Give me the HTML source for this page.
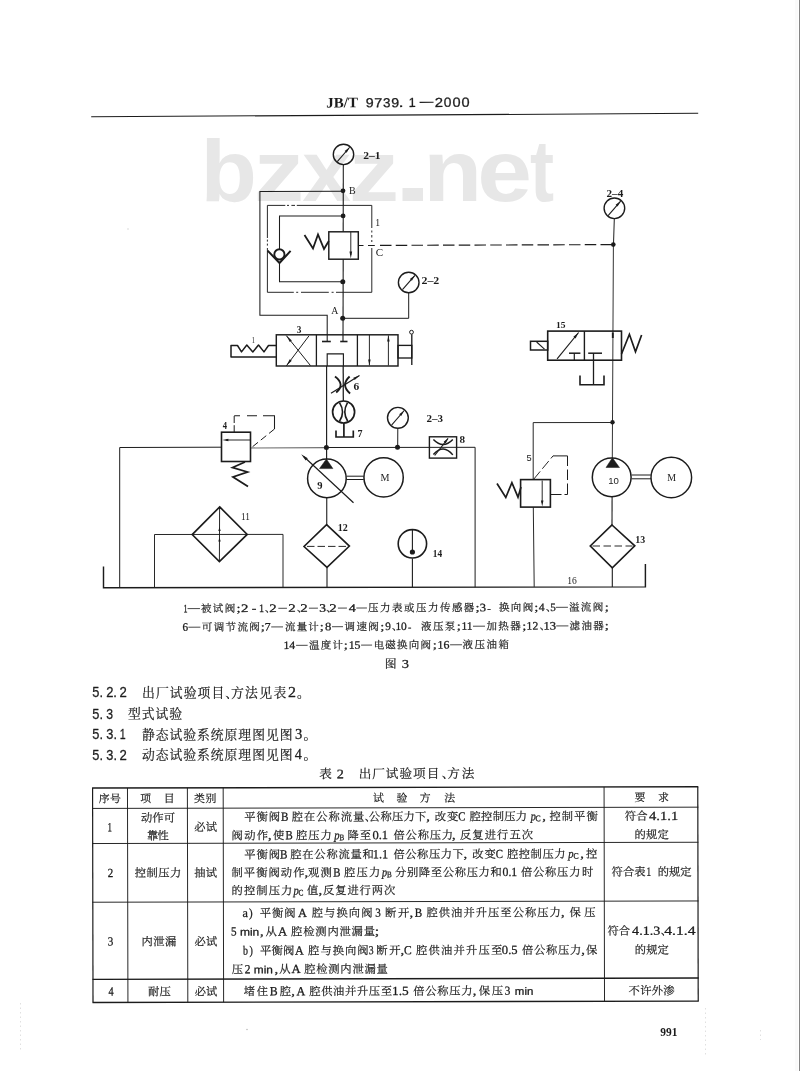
<!DOCTYPE html>
<html lang="zh"><head><meta charset="utf-8"><title>JB/T 9739.1-2000</title>
<style>
html,body{margin:0;padding:0;background:#fff}
body{width:800px;height:1071px;overflow:hidden;position:relative;font-family:"Liberation Serif",serif}
svg{position:absolute;left:0;top:0;display:block;filter:grayscale(1) blur(0.3px)}
svg text{font-family:"Liberation Serif",serif;fill:#1c1c1c;stroke:none}
svg text.h{fill:none;fill-opacity:0;font-family:"Liberation Serif",serif}
svg text.c{font-family:"Liberation Serif","Noto Serif CJK SC",serif;fill:#1c1c1c;stroke:#1c1c1c;stroke-width:.2px}
svg text.s{font-family:"Liberation Sans",sans-serif}
svg text.a{stroke:#1c1c1c;stroke-width:.28px}
.wm text{font-family:"Liberation Sans",sans-serif;font-weight:bold;fill:#e7e7e7}
</style></head><body>
<svg width="800" height="1071" viewBox="0 0 800 1071">
<g class="wm"><text x="200.42" y="201" font-size="87" textLength="56.37" lengthAdjust="spacingAndGlyphs">b</text><text x="253.77" y="201" font-size="87" textLength="50.37" lengthAdjust="spacingAndGlyphs">z</text><text x="302.3" y="201" font-size="87" textLength="48.74" lengthAdjust="spacingAndGlyphs">x</text><text x="348.77" y="201" font-size="87" textLength="50.37" lengthAdjust="spacingAndGlyphs">z</text><text x="392.89" y="201" font-size="87" textLength="40.16" lengthAdjust="spacingAndGlyphs">.</text><text x="423.34" y="201" font-size="87" textLength="58.94" lengthAdjust="spacingAndGlyphs">n</text><text x="477.16" y="201" font-size="87" textLength="54.7" lengthAdjust="spacingAndGlyphs">e</text><text x="530.02" y="201" font-size="87" textLength="24.06" lengthAdjust="spacingAndGlyphs">t</text></g>
<g fill="none" stroke="#1c1c1c" stroke-linecap="butt" stroke-linejoin="miter">
<line x1="91.2" y1="116.8" x2="698.2" y2="113.3" stroke-width="1.05"/>
<circle cx="343.5" cy="154.4" r="10.2" stroke-width="1.4" fill="none"/><line x1="337.28" y1="161.56" x2="349.72" y2="147.24" stroke-width="1.1"/><polygon points="349.47,147.53 346.69,152.79 344.65,151.02" fill="#1c1c1c" stroke="none"/>
<line x1="343.3" y1="164.6" x2="343.2" y2="231.8" stroke-width="1.1"/>
<line x1="343.2" y1="259.2" x2="343" y2="341.2" stroke-width="1.1"/>
<circle cx="343" cy="190.8" r="2.4" fill="#1c1c1c" stroke="none"/>
<circle cx="343.1" cy="215.9" r="2.4" fill="#1c1c1c" stroke="none"/>
<circle cx="342.8" cy="281.8" r="2.5" fill="#1c1c1c" stroke="none"/>
<circle cx="342.7" cy="318.3" r="2.5" fill="#1c1c1c" stroke="none"/>
<polyline points="343,191.3 259.9,191.4 259.9,315.3 327.2,315.3 327.2,341.5" stroke-width="1.05"/>
<path d="M267.4 205.4H285.3M287 205.4h2M291.4 205.4H295M296.8 205.4H371.8V228M371.8 230.5v2M371.8 235v2.5M371.8 240v2M371.8 248V292.3H336M333.6 292.3h-2M328.8 292.3H301M298.2 292.3h-2M293.8 292.3H267.4V248M267.4 245.6v-2M267.4 241.6v-2M267.4 238V205.4" stroke-width="0.95"/>
<polyline points="343,216 279.5,216 279.5,249" stroke-width="1.05"/>
<polyline points="279.5,262 279.5,281.8 343,281.8" stroke-width="1.05"/>
<circle cx="279.4" cy="254.4" r="5.1" stroke-width="1.9" fill="none"/>
<polyline points="267.6,250.6 279.5,263 290.6,250.9" stroke-width="2"/>
<rect x="328.8" y="231.8" width="29.5" height="27.4" stroke-width="1.45"/>
<line x1="350.8" y1="232" x2="350.8" y2="255" stroke-width="0.95"/>
<polygon points="350.8,258.6 349.5,251.6 352.1,251.6" fill="#1c1c1c" stroke="none"/>
<polyline points="304.5,235 313,248.5 318,234.5 324,249 328.8,241" stroke-width="1.8"/>
<line x1="358.3" y1="245.5" x2="363.5" y2="245.5" stroke-width="1"/>
<line x1="368" y1="245.5" x2="374.8" y2="245.5" stroke-width="1"/>
<line x1="380" y1="245.4" x2="613" y2="244.6" stroke-width="1.15" stroke-dasharray="11.5 4.25"/>
<circle cx="408.7" cy="282.5" r="10.3" stroke-width="1.4" fill="none"/><line x1="402.42" y1="289.73" x2="414.98" y2="275.27" stroke-width="1.1"/><polygon points="414.73,275.56 411.95,280.82 409.91,279.05" fill="#1c1c1c" stroke="none"/>
<polyline points="408.7,292.8 408.7,318.3 343,318.3" stroke-width="1"/>
<rect x="276.3" y="334.8" width="121.7" height="31.2" stroke-width="1.45"/>
<line x1="316.4" y1="334.8" x2="316.4" y2="366" stroke-width="1.3"/>
<line x1="357.4" y1="334.8" x2="357.4" y2="366" stroke-width="1.3"/>
<line x1="310.5" y1="365.6" x2="286.3" y2="335.6" stroke-width="1"/><polygon points="286.3,335.6 291.83,340.39 289.81,342.02" fill="#1c1c1c" stroke="none"/>
<line x1="309" y1="335.8" x2="286.4" y2="365.8" stroke-width="1"/><polygon points="286.4,365.8 289.69,359.27 291.77,360.83" fill="#1c1c1c" stroke="none"/>
<line x1="322" y1="341.5" x2="330.8" y2="341.5" stroke-width="1.6"/>
<line x1="340.2" y1="341.5" x2="347.5" y2="341.5" stroke-width="1.6"/>
<polyline points="327.2,366 327.2,353.9 343.4,353.9 343.4,366" stroke-width="1.15"/>
<line x1="369.4" y1="335" x2="369.4" y2="365.4" stroke-width="0.95"/><polygon points="369.4,365.4 368.15,359.4 370.65,359.4" fill="#1c1c1c" stroke="none"/>
<line x1="388.4" y1="365.5" x2="388.4" y2="335.4" stroke-width="0.95"/><polygon points="388.4,335.4 389.65,341.4 387.15,341.4" fill="#1c1c1c" stroke="none"/>
<rect x="398" y="345.4" width="13.8" height="12.6" stroke-width="1.35"/>
<line x1="411.8" y1="334.2" x2="411.8" y2="365" stroke-width="1.35"/>
<circle cx="411.5" cy="332.2" r="1.9" stroke-width="1" fill="none"/>
<polyline points="276.3,345.5 268.5,345.5 264,351.9 258.5,345 252.8,351.9 246.8,345 241.5,351.9 237.5,345.5 231,345.5 231,357 276.3,357" stroke-width="1.5" stroke-linejoin="round"/>
<line x1="326.6" y1="365.9" x2="326.6" y2="459.2" stroke-width="1.15"/>
<line x1="343.2" y1="365.9" x2="343.3" y2="401" stroke-width="1.25"/>
<path d="M335 376.5Q345.6 384.5 336.2 392.5" stroke-width="1.9"/>
<path d="M349.6 376.5Q340.3 385 350.1 393.5" stroke-width="1.9"/>
<line x1="331" y1="393.3" x2="359.5" y2="375.5" stroke-width="1.2"/><polygon points="359.5,375.5 354.68,380.05 353.3,377.84" fill="#1c1c1c" stroke="none"/>
<circle cx="343.6" cy="412" r="11" stroke-width="1.7" fill="none"/>
<path d="M339.5 402.6Q345.6 412.2 339.5 421.2" stroke-width="1.6"/>
<path d="M347.5 402.6Q342 412.2 347.7 421.2" stroke-width="1.6"/>
<line x1="343.9" y1="423" x2="343.9" y2="437" stroke-width="1.7"/>
<polyline points="336,430.4 336,437 353.3,437 353.3,430.4" stroke-width="1.65"/>
<polyline points="119.7,587.8 119.7,447.5 221.5,447.2" stroke-width="1"/>
<line x1="250.5" y1="448" x2="326.4" y2="447.6" stroke-width="1.2" stroke="#707070"/>
<polyline points="326.4,447.5 475.1,447.3 475.1,587.2" stroke-width="1"/>
<circle cx="326.4" cy="447.5" r="2.5" fill="#1c1c1c" stroke="none"/>
<circle cx="397.5" cy="447.3" r="2.5" fill="#1c1c1c" stroke="none"/>
<rect x="221.5" y="432.2" width="29" height="29.3" stroke-width="1.6"/>
<line x1="250.5" y1="440" x2="226" y2="440" stroke-width="0.95"/>
<polygon points="222.4,440 228.4,438.75 228.4,441.25" fill="#1c1c1c" stroke="none"/>
<line x1="234.2" y1="432.2" x2="234.2" y2="415.8" stroke-width="1" stroke-dasharray="7 2.2"/>
<path d="M234.2 415.8H240M247 415.8H257M263 415.8H274.5V429" stroke-width="1.05"/>
<line x1="274.5" y1="429" x2="251" y2="448" stroke-width="1" stroke-dasharray="7 3.6"/>
<polyline points="245,462 232.6,467.5 247.5,472 233,477 248,486.5" stroke-width="1.8"/>
<polygon points="219.7,506.9 247.2,534.4 219.4,561.6 192.2,534.6" stroke-width="1.65"/>
<polyline points="154.5,587.7 154.5,534.5 283,534.4 283,587.4" stroke-width="0.95"/>
<line x1="219.6" y1="507" x2="219.4" y2="561.6" stroke-width="0.95"/>
<polygon points="219.5,527 220.7,531 218.3,531" fill="#1c1c1c" stroke="none"/>
<polygon points="219.5,537.5 220.7,541.5 218.3,541.5" fill="#1c1c1c" stroke="none"/>
<circle cx="326.9" cy="478.4" r="19.3" stroke-width="1.5" fill="none"/>
<polygon points="326.4,459 319.5,468.6 332.9,468.6" stroke-width="0.5" fill="#1c1c1c"/>
<line x1="353.5" y1="502.8" x2="304" y2="456.8" stroke-width="1.2"/>
<polygon points="301.2,454.2 307.72,458.21 305.67,460.4" fill="#1c1c1c" stroke="none"/>
<line x1="346.4" y1="476.2" x2="363.8" y2="476.2" stroke-width="1"/>
<line x1="346.4" y1="479.5" x2="363.8" y2="479.5" stroke-width="1"/>
<circle cx="383.6" cy="477.4" r="19.65" stroke-width="1.5" fill="none"/>
<line x1="326.75" y1="497.6" x2="326.75" y2="525" stroke-width="1.1"/>
<polygon points="326.6,524.6 349.4,546.1 327,567.4 304,546.5" stroke-width="1.6"/>
<line x1="307" y1="546.4" x2="347" y2="546.4" stroke-width="0.95" stroke-dasharray="7.5 3"/>
<line x1="327" y1="567.4" x2="327" y2="587.4" stroke-width="1.1"/>
<circle cx="412.4" cy="543.8" r="14.2" stroke-width="1.6" fill="none"/>
<line x1="412.4" y1="529.3" x2="412.4" y2="551" stroke-width="1.1"/>
<circle cx="412.4" cy="552" r="2.6" fill="#1c1c1c" stroke="none"/>
<line x1="412.4" y1="558.4" x2="412.4" y2="587.3" stroke-width="1.1"/>
<circle cx="397.9" cy="417.8" r="10.4" stroke-width="1.4" fill="none"/><line x1="391.55" y1="425.1" x2="404.25" y2="410.5" stroke-width="1.1"/><polygon points="403.99,410.79 401.21,416.06 399.17,414.28" fill="#1c1c1c" stroke="none"/>
<line x1="397.8" y1="428.2" x2="397.7" y2="447.5" stroke-width="1"/>
<rect x="429.4" y="436.8" width="27.2" height="21.3" stroke-width="1.4"/>
<path d="M433.4 439.6Q443.1 449.6 452.8 439.6" stroke-width="1.5"/>
<path d="M433.4 454.4Q443.4 443.2 452.8 454.9" stroke-width="1.5"/>
<line x1="434.7" y1="455.5" x2="448.1" y2="438.3" stroke-width="1.1"/><polygon points="448.1,438.3 445.75,443.44 443.69,441.84" fill="#1c1c1c" stroke="none"/>
<circle cx="614.4" cy="208.3" r="10.3" stroke-width="1.4" fill="none"/><line x1="608.12" y1="215.53" x2="620.68" y2="201.07" stroke-width="1.1"/><polygon points="620.43,201.36 617.65,206.62 615.61,204.85" fill="#1c1c1c" stroke="none"/>
<line x1="614.3" y1="218.6" x2="613.5" y2="244.5" stroke-width="1"/>
<circle cx="613.3" cy="244.6" r="2.3" fill="#1c1c1c" stroke="none"/>
<line x1="613.4" y1="244.6" x2="612.3" y2="458" stroke-width="0.9"/>
<line x1="612.8" y1="332.5" x2="612.8" y2="338" stroke-width="1.9"/>
<rect x="547.7" y="331.1" width="73.8" height="29.1" stroke-width="1.6"/>
<line x1="584.4" y1="331.1" x2="584.4" y2="360.2" stroke-width="1.4"/>
<line x1="557.1" y1="358.8" x2="578.6" y2="332.5" stroke-width="1.15"/><polygon points="578.6,332.5 575.57,338.42 573.4,336.65" fill="#1c1c1c" stroke="none"/>
<line x1="569" y1="353.2" x2="580.4" y2="353.2" stroke-width="1.5"/>
<line x1="574.3" y1="353.2" x2="574.3" y2="360.2" stroke-width="1.2"/>
<line x1="588.2" y1="353.2" x2="602" y2="353.2" stroke-width="1.5"/>
<line x1="593.5" y1="353.2" x2="593.5" y2="384.6" stroke-width="1.3"/>
<polyline points="580,375.4 580,384.7 604,384.7 604,375.4" stroke-width="1.6"/>
<rect x="530.5" y="341.3" width="17.2" height="8.7" stroke-width="1.5"/>
<line x1="536.6" y1="342" x2="544.5" y2="349.2" stroke-width="1.1"/>
<polyline points="621.5,354 629.4,334.3 635.5,351.8 641.6,335" stroke-width="1.7"/>
<circle cx="612.5" cy="422.3" r="2.2" fill="#1c1c1c" stroke="none"/>
<polyline points="612.5,422.5 533.2,422.6 533.2,479.6" stroke-width="0.95"/>
<rect x="520.6" y="479.6" width="29.8" height="27.5" stroke-width="1.6"/>
<line x1="542.2" y1="480.5" x2="542.2" y2="503" stroke-width="0.95"/>
<polygon points="542.2,506.4 540.95,500.4 543.45,500.4" fill="#1c1c1c" stroke="none"/>
<line x1="533.8" y1="479.1" x2="553" y2="455.9" stroke-width="0.95" stroke-dasharray="10 3.4"/>
<path d="M553 455.9H567.5M567.5 455.9V466M567.5 469.5V480M567.5 483.5V494.5H564.5M561.5 494.5H550.4" stroke-width="1"/>
<polyline points="497,483.5 505.8,497.5 511.9,482.6 518,497.2 521,487" stroke-width="1.7"/>
<line x1="533.3" y1="507.1" x2="534.2" y2="586.9" stroke-width="0.95"/>
<circle cx="611.7" cy="477.3" r="19.4" stroke-width="1.5" fill="none"/>
<polygon points="612.4,457.8 606,467.5 619.5,467.5" stroke-width="0.5" fill="#1c1c1c"/>
<line x1="631.5" y1="475" x2="651" y2="475" stroke-width="1"/>
<line x1="631.5" y1="478.8" x2="651" y2="478.8" stroke-width="1"/>
<circle cx="671.3" cy="477.5" r="20.3" stroke-width="1.45" fill="none"/>
<line x1="612.1" y1="497" x2="612" y2="525" stroke-width="1.1"/>
<polygon points="612,525 634.8,545.8 612.3,567.8 590.3,546" stroke-width="1.65"/>
<line x1="592.5" y1="546" x2="632.5" y2="546" stroke-width="0.95" stroke-dasharray="7.5 3.5"/>
<line x1="612.3" y1="567.8" x2="612.3" y2="587" stroke-width="1.1"/>
<polyline points="103.5,566.6 103.5,587.8 645.4,586.9 645.4,564" stroke-width="1.45"/>
</g>
<g fill="#1c1c1c" stroke="#1c1c1c" stroke-linejoin="round">
<g transform="rotate(-0.33 400 107)">
<text x="326.2" y="107" font-size="14.6" font-weight="bold" textLength="31.8" lengthAdjust="spacingAndGlyphs">JB/T</text>
<text x="365.73" y="107.1" font-size="13.2" class="s a" textLength="7.95" lengthAdjust="spacingAndGlyphs">9</text>
<text x="374.26" y="107.1" font-size="13.2" class="s a" textLength="8.07" lengthAdjust="spacingAndGlyphs">7</text>
<text x="383.09" y="107.1" font-size="13.2" class="s a" textLength="7.51" lengthAdjust="spacingAndGlyphs">3</text>
<text x="391.33" y="107.1" font-size="13.2" class="s a" textLength="7.95" lengthAdjust="spacingAndGlyphs">9</text>
<text x="398.47" y="107.1" font-size="13.2" class="s a" textLength="5.25" lengthAdjust="spacingAndGlyphs">.</text>
<text x="408.65" y="107.1" font-size="13.2" class="s a" textLength="6.97" lengthAdjust="spacingAndGlyphs">1</text>
<text class="h" x="420" y="107" font-size="13">—</text><line x1="419.6" y1="102.5" x2="433.6" y2="102.5" stroke="#1c1c1c" stroke-width="1.1"/>
<text x="434.85" y="107.1" font-size="13.2" class="s a" textLength="8.3" lengthAdjust="spacingAndGlyphs">2</text>
<text x="443.86" y="107.1" font-size="13.2" class="s a" textLength="7.68" lengthAdjust="spacingAndGlyphs">0</text>
<text x="452.43" y="107.1" font-size="13.2" class="s a" textLength="8.14" lengthAdjust="spacingAndGlyphs">0</text>
<text x="461.43" y="107.1" font-size="13.2" class="s a" textLength="8.14" lengthAdjust="spacingAndGlyphs">0</text>
</g>
<text x="363.32" y="158.9" font-size="9.5" font-weight="bold" textLength="17.28" lengthAdjust="spacingAndGlyphs">2–1</text>
<text x="421.5" y="283.9" font-size="9.5" font-weight="bold" textLength="17.81" lengthAdjust="spacingAndGlyphs">2–2</text>
<text x="426.44" y="422.3" font-size="9.5" font-weight="bold" textLength="16.54" lengthAdjust="spacingAndGlyphs">2–3</text>
<text x="606.53" y="196.9" font-size="9.5" font-weight="bold" textLength="16.67" lengthAdjust="spacingAndGlyphs">2–4</text>
<text x="349.01" y="194.4" font-size="10" textLength="6.68" lengthAdjust="spacingAndGlyphs">B</text>
<text x="331.2" y="314.4" font-size="10" textLength="7.07" lengthAdjust="spacingAndGlyphs">A</text>
<text x="375.85" y="255.9" font-size="9.5" textLength="7.36" lengthAdjust="spacingAndGlyphs">C</text>
<text x="375.35" y="226.4" font-size="9.5" textLength="4.83" lengthAdjust="spacingAndGlyphs">1</text>
<text x="296.65" y="332.6" font-size="9.5" font-weight="bold" textLength="4.67" lengthAdjust="spacingAndGlyphs">3</text>
<text x="251.82" y="343" font-size="8.5" textLength="3.19" lengthAdjust="spacingAndGlyphs">1</text>
<text x="222.68" y="428.6" font-size="9.5" font-weight="bold" textLength="4.28" lengthAdjust="spacingAndGlyphs">4</text>
<text x="526.43" y="460.8" font-size="8.8" class="s" textLength="5.16" lengthAdjust="spacingAndGlyphs">5</text>
<text x="353.61" y="389.6" font-size="9.5" font-weight="bold" textLength="5.73" lengthAdjust="spacingAndGlyphs">6</text>
<text x="357.43" y="437" font-size="9.5" font-weight="bold" textLength="5.02" lengthAdjust="spacingAndGlyphs">7</text>
<text x="459.63" y="442.6" font-size="9.5" font-weight="bold" textLength="5.54" lengthAdjust="spacingAndGlyphs">8</text>
<text x="317.31" y="488.9" font-size="9.5" font-weight="bold" textLength="5.27" lengthAdjust="spacingAndGlyphs">9</text>
<text x="608.27" y="483.6" font-size="8.8" class="s" textLength="10.71" lengthAdjust="spacingAndGlyphs">10</text>
<text x="241.02" y="520.1" font-size="9.5" textLength="8.92" lengthAdjust="spacingAndGlyphs">11</text>
<text x="337.8" y="530.7" font-size="9.5" font-weight="bold" textLength="10.03" lengthAdjust="spacingAndGlyphs">12</text>
<text x="635.2" y="542.9" font-size="9.5" font-weight="bold" textLength="9.94" lengthAdjust="spacingAndGlyphs">13</text>
<text x="432.85" y="556.7" font-size="9.5" font-weight="bold" textLength="9.32" lengthAdjust="spacingAndGlyphs">14</text>
<text x="556.04" y="328.1" font-size="9" font-weight="bold" textLength="9.51" lengthAdjust="spacingAndGlyphs">15</text>
<text x="567.16" y="584.4" font-size="9.5" textLength="9.52" lengthAdjust="spacingAndGlyphs">16</text>
<text x="380.51" y="480.9" font-size="10.3" textLength="8.99" lengthAdjust="spacingAndGlyphs">M</text>
<text x="667.32" y="480.9" font-size="10.3" textLength="8.77" lengthAdjust="spacingAndGlyphs">M</text>
<g transform="rotate(-0.2 395 626)">
<g stroke-width="4"><text x="183.55" y="611.49" font-size="11.3" class="a" textLength="4.07" lengthAdjust="spacingAndGlyphs">1</text><text class="h" x="187.6" y="611.49" font-size="10.5">—</text><line x1="187.6" y1="607.9" x2="200" y2="607.9" stroke="#1c1c1c" stroke-width="0.8"/><text class="c" x="201" y="611.49" font-size="10.5" letter-spacing="1.42">被试阀</text><text x="236.44" y="611.49" font-size="11.3" class="a" textLength="4.09" lengthAdjust="spacingAndGlyphs">;</text><text x="240.94" y="611.49" font-size="11.3" class="a" textLength="7.48" lengthAdjust="spacingAndGlyphs">2</text><text x="251.89" y="611.49" font-size="11.3" class="a" textLength="4.62" lengthAdjust="spacingAndGlyphs">-</text><text x="259.1" y="611.49" font-size="11.3" class="a" textLength="5.11" lengthAdjust="spacingAndGlyphs">1</text><text class="c" x="265" y="611.49" font-size="10.5">、</text><text x="269.34" y="611.49" font-size="11.3" class="a" textLength="7.48" lengthAdjust="spacingAndGlyphs">2</text><text class="h" x="278.4" y="611.49" font-size="10.5">—</text><line x1="278.4" y1="607.9" x2="287" y2="607.9" stroke="#1c1c1c" stroke-width="0.8"/><text x="288.34" y="611.49" font-size="11.3" class="a" textLength="7.48" lengthAdjust="spacingAndGlyphs">2</text><text class="c" x="297" y="611.49" font-size="10.5">、</text><text x="300.34" y="611.49" font-size="11.3" class="a" textLength="7.48" lengthAdjust="spacingAndGlyphs">2</text><text class="h" x="309" y="611.49" font-size="10.5">—</text><line x1="309" y1="607.9" x2="318" y2="607.9" stroke="#1c1c1c" stroke-width="0.8"/><text x="319.35" y="611.49" font-size="11.3" class="a" textLength="6.78" lengthAdjust="spacingAndGlyphs">3</text><text class="c" x="326.4" y="611.49" font-size="10.5">、</text><text x="329.34" y="611.49" font-size="11.3" class="a" textLength="7.48" lengthAdjust="spacingAndGlyphs">2</text><text class="h" x="338" y="611.49" font-size="10.5">—</text><line x1="338" y1="607.9" x2="347" y2="607.9" stroke="#1c1c1c" stroke-width="0.8"/><text x="348.72" y="611.49" font-size="11.3" class="a" textLength="7.1" lengthAdjust="spacingAndGlyphs">4</text><text class="h" x="356.4" y="611.49" font-size="10.5">—</text><line x1="356.4" y1="607.9" x2="367" y2="607.9" stroke="#1c1c1c" stroke-width="0.8"/><text class="c" x="368" y="611.49" font-size="10.5" letter-spacing="1.49">压力表或压力传感器</text><text x="475.64" y="611.49" font-size="11.3" class="a" textLength="4.09" lengthAdjust="spacingAndGlyphs">;</text><text x="479.8" y="611.49" font-size="11.3" class="a" textLength="6.29" lengthAdjust="spacingAndGlyphs">3</text><text x="487.2" y="611.49" font-size="8" class="a" textLength="3.59" lengthAdjust="spacingAndGlyphs">-</text><text class="c" x="499" y="611.49" font-size="10.5" letter-spacing="1.37">换向阀</text><text x="534.24" y="611.49" font-size="11.3" class="a" textLength="4.09" lengthAdjust="spacingAndGlyphs">;</text><text x="538.77" y="611.49" font-size="11.3" class="a" textLength="5.92" lengthAdjust="spacingAndGlyphs">4</text><text class="c" x="546" y="611.49" font-size="10.5">、</text><text x="550.35" y="611.49" font-size="11.3" class="a" textLength="5.59" lengthAdjust="spacingAndGlyphs">5</text><text class="h" x="556" y="611.49" font-size="10.5">—</text><line x1="556" y1="607.9" x2="568" y2="607.9" stroke="#1c1c1c" stroke-width="0.8"/><text class="c" x="569" y="611.49" font-size="10.5" letter-spacing="1.42">溢流阀</text><text x="604.74" y="611.49" font-size="11.3" class="a" textLength="4.09" lengthAdjust="spacingAndGlyphs">;</text></g>
<g stroke-width="4"><text x="182.52" y="630.09" font-size="11.3" class="a" textLength="5.62" lengthAdjust="spacingAndGlyphs">6</text><text class="h" x="188.4" y="630.09" font-size="10.5">—</text><line x1="188.4" y1="626.5" x2="200.4" y2="626.5" stroke="#1c1c1c" stroke-width="0.8"/><text class="c" x="201.8" y="630.09" font-size="10.5" letter-spacing="1.39">可调节流阀</text><text x="260.84" y="630.09" font-size="11.3" class="a" textLength="4.09" lengthAdjust="spacingAndGlyphs">;</text><text x="264.82" y="630.09" font-size="11.3" class="a" textLength="5.92" lengthAdjust="spacingAndGlyphs">7</text><text class="h" x="271.2" y="630.09" font-size="10.5">—</text><line x1="271.2" y1="626.5" x2="283" y2="626.5" stroke="#1c1c1c" stroke-width="0.8"/><text class="c" x="285" y="630.09" font-size="10.5" letter-spacing="1.17">流量计</text><text x="319.64" y="630.09" font-size="11.3" class="a" textLength="4.09" lengthAdjust="spacingAndGlyphs">;</text><text x="325.11" y="630.09" font-size="11.3" class="a" textLength="6.37" lengthAdjust="spacingAndGlyphs">8</text><text class="h" x="332" y="630.09" font-size="10.5">—</text><line x1="332" y1="626.5" x2="343" y2="626.5" stroke="#1c1c1c" stroke-width="0.8"/><text class="c" x="344.4" y="630.09" font-size="10.5" letter-spacing="1.47">调速阀</text><text x="380.24" y="630.09" font-size="11.3" class="a" textLength="4.09" lengthAdjust="spacingAndGlyphs">;</text><text x="385.24" y="630.09" font-size="11.3" class="a" textLength="5.62" lengthAdjust="spacingAndGlyphs">9</text><text class="c" x="392" y="630.09" font-size="10.5">、</text><text x="395.39" y="630.09" font-size="11.3" class="a" textLength="11.44" lengthAdjust="spacingAndGlyphs">10</text><text x="408.03" y="630.09" font-size="8" class="a" textLength="3.33" lengthAdjust="spacingAndGlyphs">-</text><text class="c" x="421" y="630.09" font-size="10.5" letter-spacing="1.37">液压泵</text><text x="456.84" y="630.09" font-size="11.3" class="a" textLength="4.09" lengthAdjust="spacingAndGlyphs">;</text><text x="461.41" y="630.09" font-size="11.3" class="a" textLength="11.27" lengthAdjust="spacingAndGlyphs">11</text><text class="h" x="473" y="630.09" font-size="10.5">—</text><line x1="473" y1="626.5" x2="485" y2="626.5" stroke="#1c1c1c" stroke-width="0.8"/><text class="c" x="486.4" y="630.09" font-size="10.5" letter-spacing="1.47">加热器</text><text x="522.24" y="630.09" font-size="11.3" class="a" textLength="4.09" lengthAdjust="spacingAndGlyphs">;</text><text x="526.57" y="630.09" font-size="11.3" class="a" textLength="11.67" lengthAdjust="spacingAndGlyphs">12</text><text class="c" x="539.8" y="630.09" font-size="10.5">、</text><text x="543.39" y="630.09" font-size="11.3" class="a" textLength="12.6" lengthAdjust="spacingAndGlyphs">13</text><text class="h" x="556.2" y="630.09" font-size="10.5">—</text><line x1="556.2" y1="626.5" x2="568.4" y2="626.5" stroke="#1c1c1c" stroke-width="0.8"/><text class="c" x="569.5" y="630.09" font-size="10.5" letter-spacing="1.42">滤油器</text><text x="604.74" y="630.09" font-size="11.3" class="a" textLength="4.09" lengthAdjust="spacingAndGlyphs">;</text></g>
<g stroke-width="4"><text x="283.36" y="648.59" font-size="11.3" class="a" textLength="11.82" lengthAdjust="spacingAndGlyphs">14</text><text class="h" x="296" y="648.59" font-size="10.5">—</text><line x1="296" y1="645" x2="307.6" y2="645" stroke="#1c1c1c" stroke-width="0.8"/><text class="c" x="309" y="648.59" font-size="10.5" letter-spacing="1.17">温度计</text><text x="343.64" y="648.59" font-size="11.3" class="a" textLength="4.09" lengthAdjust="spacingAndGlyphs">;</text><text x="348.55" y="648.59" font-size="11.3" class="a" textLength="11.91" lengthAdjust="spacingAndGlyphs">15</text><text class="h" x="361" y="648.59" font-size="10.5">—</text><line x1="361" y1="645" x2="372" y2="645" stroke="#1c1c1c" stroke-width="0.8"/><text class="c" x="373.6" y="648.59" font-size="10.5" letter-spacing="1.19">电磁换向阀</text><text x="432.74" y="648.59" font-size="11.3" class="a" textLength="4.09" lengthAdjust="spacingAndGlyphs">;</text><text x="437.45" y="648.59" font-size="11.3" class="a" textLength="11.9" lengthAdjust="spacingAndGlyphs">16</text><text class="h" x="450" y="648.59" font-size="10.5">—</text><line x1="450" y1="645" x2="462" y2="645" stroke="#1c1c1c" stroke-width="0.8"/><text class="c" x="462.5" y="648.59" font-size="10.5" letter-spacing="1.45">液压油箱</text></g>
</g>
<g stroke-width="4"><text class="c" x="384.8" y="667.98" font-size="11.8">图</text><text x="401.8" y="667.98" font-size="13.3" class="a" textLength="7.26" lengthAdjust="spacingAndGlyphs">3</text></g>
<g stroke-width="4.5"><text x="92.29" y="697.46" font-size="14.8" class="a s" textLength="10.68" lengthAdjust="spacingAndGlyphs">5.</text><text x="106.15" y="697.46" font-size="14.8" class="a s" textLength="10.84" lengthAdjust="spacingAndGlyphs">2.</text><text x="119.54" y="697.46" font-size="14.8" class="a s" textLength="7.32" lengthAdjust="spacingAndGlyphs">2</text><text class="c" x="142" y="696.76" font-size="12.8" letter-spacing="1.1">出厂试验项目</text><text class="c" x="225.2" y="696.76" font-size="12.8">、</text><text class="c" x="230.9" y="696.76" font-size="12.8" letter-spacing="1.4">方法见表</text><text x="287.9" y="696.76" font-size="14.2" class="a" textLength="7.98" lengthAdjust="spacingAndGlyphs">2</text><text class="c" x="297" y="696.76" font-size="12.8">。</text></g>
<g stroke-width="4.5"><text x="92.29" y="718.56" font-size="14.8" class="a s" textLength="10.68" lengthAdjust="spacingAndGlyphs">5.</text><text x="106.33" y="718.56" font-size="14.8" class="a s" textLength="6.8" lengthAdjust="spacingAndGlyphs">3</text><text class="c" x="128" y="717.86" font-size="12.8" letter-spacing="0.97">型式试验</text></g>
<g stroke-width="4.5"><text x="92.29" y="739.36" font-size="14.8" class="a s" textLength="10.68" lengthAdjust="spacingAndGlyphs">5.</text><text x="106.31" y="739.36" font-size="14.8" class="a s" textLength="10.65" lengthAdjust="spacingAndGlyphs">3.</text><text x="119.69" y="739.36" font-size="14.8" class="a s" textLength="5.93" lengthAdjust="spacingAndGlyphs">1</text><text class="c" x="142" y="738.66" font-size="12.8" letter-spacing="0.97">静态试验系统原理图见图</text><text x="294.9" y="738.66" font-size="14.2" class="a" textLength="7.26" lengthAdjust="spacingAndGlyphs">3</text><text class="c" x="303.6" y="738.66" font-size="12.8">。</text></g>
<g stroke-width="4.5"><text x="92.29" y="759.96" font-size="14.8" class="a s" textLength="10.68" lengthAdjust="spacingAndGlyphs">5.</text><text x="106.31" y="759.96" font-size="14.8" class="a s" textLength="10.65" lengthAdjust="spacingAndGlyphs">3.</text><text x="119.54" y="759.96" font-size="14.8" class="a s" textLength="7.32" lengthAdjust="spacingAndGlyphs">2</text><text class="c" x="142" y="759.26" font-size="12.8" letter-spacing="0.97">动态试验系统原理图见图</text><text x="294.72" y="759.26" font-size="14.2" class="a" textLength="7.1" lengthAdjust="spacingAndGlyphs">4</text><text class="c" x="303.6" y="759.26" font-size="12.8">。</text></g>
</g>
<g transform="rotate(-0.12 395 895)"><g fill="none" stroke="#1c1c1c">
<line x1="92.3" y1="787.4" x2="698.5" y2="787.4" stroke-width="1.4"/>
<line x1="92.3" y1="807.8" x2="698.5" y2="807.8" stroke-width="0.95"/>
<line x1="92.3" y1="842.9" x2="698.5" y2="842.9" stroke-width="0.95"/>
<line x1="92.3" y1="901.6" x2="698.5" y2="901.6" stroke-width="0.95"/>
<line x1="92.3" y1="978.7" x2="698.5" y2="978.7" stroke-width="1.4"/>
<line x1="92.3" y1="1001.8" x2="698.5" y2="1001.8" stroke-width="1.4"/>
<line x1="92.8" y1="787.4" x2="92.8" y2="1001.8" stroke-width="1.2"/>
<line x1="127.7" y1="787.4" x2="127.7" y2="1001.8" stroke-width="0.95"/>
<line x1="187.6" y1="787.4" x2="187.6" y2="1001.8" stroke-width="0.95"/>
<line x1="223.4" y1="787.4" x2="223.4" y2="1001.8" stroke-width="0.95"/>
<line x1="604.3" y1="787.4" x2="604.3" y2="1001.8" stroke-width="0.95"/>
<line x1="698" y1="787.4" x2="698" y2="1001.8" stroke-width="1.2"/>
</g><g fill="#1c1c1c" stroke="#1c1c1c" stroke-linejoin="round">
<g stroke-width="4.5"><text class="c" x="319.5" y="778.09" font-size="12.6">表</text><text x="336.98" y="778.09" font-size="13" class="a" textLength="7.11" lengthAdjust="spacingAndGlyphs">2</text><text class="c" x="358.9" y="778.09" font-size="12.6" letter-spacing="1.02">出厂试验项目</text><text class="c" x="442" y="778.09" font-size="12.6">、</text><text class="c" x="447.6" y="778.09" font-size="12.6" letter-spacing="1.7">方法</text></g>
<g stroke-width="4.5"><text class="c" x="99" y="801.84" font-size="10.9" letter-spacing="0.38">序号</text><text class="c" x="140.5" y="801.84" font-size="10.9">项</text><text class="c" x="164" y="801.84" font-size="10.9">目</text><text class="c" x="194.3" y="801.84" font-size="10.9" letter-spacing="0.58">类别</text><text class="c" x="373.2" y="801.84" font-size="10.9">试</text><text class="c" x="396.7" y="801.84" font-size="10.9">验</text><text class="c" x="420" y="801.84" font-size="10.9">方</text><text class="c" x="444.5" y="801.84" font-size="10.9">法</text><text class="c" x="634.7" y="801.84" font-size="10.9">要</text><text class="c" x="658.1" y="801.84" font-size="10.9">求</text></g>
<g stroke-width="4.5"><text x="107.64" y="830.69" font-size="12.43" class="a" textLength="4.47" lengthAdjust="spacingAndGlyphs">1</text><text class="c" x="194.3" y="830.69" font-size="11.3" letter-spacing="0.3">必试</text></g>
<g stroke-width="4.5"><text class="c" x="141.1" y="821.29" font-size="11.3" letter-spacing="0.1">动作可</text></g>
<g stroke-width="4.5"><text class="c" x="244.4" y="820.59" font-size="11.3" letter-spacing="0.9">平衡阀</text><text x="281.08" y="820.59" font-size="12.43" class="a" textLength="7.47" lengthAdjust="spacingAndGlyphs">B</text><text class="c" x="292" y="820.59" font-size="11.3" letter-spacing="0.94">腔在公称流量</text><text class="c" x="364.8" y="820.59" font-size="11.3">、</text><text class="c" x="369" y="820.59" font-size="11.3" letter-spacing="0.25">公称压力下</text><text x="426.44" y="820.59" font-size="12.43" class="a" textLength="3.69" lengthAdjust="spacingAndGlyphs">,</text><text class="c" x="435" y="820.59" font-size="11.3" letter-spacing="0.9">改变</text><text x="458.35" y="820.59" font-size="12.43" class="a" textLength="7.24" lengthAdjust="spacingAndGlyphs">C</text><text class="c" x="469.6" y="820.59" font-size="11.3" letter-spacing="0.3">腔控制压力</text><text x="530.8" y="820.59" font-size="12.43" class="a" font-style="italic" textLength="5.11" lengthAdjust="spacingAndGlyphs">p</text><text x="535.68" y="821.59" font-size="8.5" class="a" textLength="5.14" lengthAdjust="spacingAndGlyphs">C</text><text x="542.44" y="820.59" font-size="12.43" class="a" textLength="3.69" lengthAdjust="spacingAndGlyphs">,</text><text class="c" x="549.6" y="820.59" font-size="11.3" letter-spacing="1.03">控制平衡</text><text class="c" x="625" y="820.59" font-size="11.3" letter-spacing="0.2">符合</text><text x="649.11" y="820.59" font-size="12.43" class="a" textLength="29.26" lengthAdjust="spacingAndGlyphs">4.1.1</text></g>
<g stroke-width="4.5"><text class="c" x="147" y="839.09" font-size="11.3" letter-spacing="-0.6">靠性</text><text class="c" x="231.6" y="839.09" font-size="11.3" letter-spacing="1.4">阀动作</text><text x="268.04" y="839.09" font-size="12.43" class="a" textLength="3.69" lengthAdjust="spacingAndGlyphs">,</text><text class="c" x="273" y="839.09" font-size="11.3">使</text><text x="285.69" y="839.09" font-size="12.43" class="a" textLength="7.24" lengthAdjust="spacingAndGlyphs">B</text><text class="c" x="296" y="839.09" font-size="11.3" letter-spacing="1">腔压力</text><text x="334.42" y="839.09" font-size="12.43" class="a" font-style="italic" textLength="5.3" lengthAdjust="spacingAndGlyphs">p</text><text x="339.59" y="840.09" font-size="8.5" class="a" textLength="4.75" lengthAdjust="spacingAndGlyphs">B</text><text class="c" x="347.6" y="839.09" font-size="11.3" letter-spacing="1.1">降至</text><text x="372.52" y="839.09" font-size="12.43" class="a" textLength="15.63" lengthAdjust="spacingAndGlyphs">0.1</text><text class="c" x="393.6" y="839.09" font-size="11.3" letter-spacing="0.8">倍公称压力</text><text x="452.04" y="839.09" font-size="12.43" class="a" textLength="3.69" lengthAdjust="spacingAndGlyphs">,</text><text class="c" x="460" y="839.09" font-size="11.3" letter-spacing="1.1">反复进行五次</text><text class="c" x="634.7" y="839.09" font-size="11.3" letter-spacing="0.2">的规定</text></g>
<g stroke-width="4.5"><text class="c" x="244.4" y="858.19" font-size="11.3" letter-spacing="0.9">平衡阀</text><text x="280.08" y="858.19" font-size="12.43" class="a" textLength="7.47" lengthAdjust="spacingAndGlyphs">B</text><text class="c" x="290.4" y="858.19" font-size="11.3" letter-spacing="0.73">腔在公称流量和</text><text x="372.92" y="858.19" font-size="12.43" class="a" textLength="15.43" lengthAdjust="spacingAndGlyphs">1.1</text><text class="c" x="393.6" y="858.19" font-size="11.3" letter-spacing="0.5">倍公称压力下</text><text x="463.64" y="858.19" font-size="12.43" class="a" textLength="3.69" lengthAdjust="spacingAndGlyphs">,</text><text class="c" x="472.4" y="858.19" font-size="11.3" letter-spacing="0.9">改变</text><text x="495.75" y="858.19" font-size="12.43" class="a" textLength="7.24" lengthAdjust="spacingAndGlyphs">C</text><text class="c" x="507" y="858.19" font-size="11.3" letter-spacing="0.55">腔控制压力</text><text x="568.42" y="858.19" font-size="12.43" class="a" font-style="italic" textLength="5.3" lengthAdjust="spacingAndGlyphs">p</text><text x="573.48" y="859.19" font-size="8.5" class="a" textLength="5.14" lengthAdjust="spacingAndGlyphs">C</text><text x="580.44" y="858.19" font-size="12.43" class="a" textLength="3.69" lengthAdjust="spacingAndGlyphs">,</text><text class="c" x="586" y="858.19" font-size="11.3">控</text></g>
<g stroke-width="4.5"><text x="107.72" y="876.29" font-size="12.43" class="a" textLength="5.49" lengthAdjust="spacingAndGlyphs">2</text><text class="c" x="134.8" y="876.29" font-size="11.3" letter-spacing="0.43">控制压力</text><text class="c" x="194.3" y="876.29" font-size="11.3" letter-spacing="0.3">抽试</text><text class="c" x="231.6" y="876.29" font-size="11.3" letter-spacing="1.02">制平衡阀动作</text><text x="304.44" y="876.29" font-size="12.43" class="a" textLength="3.69" lengthAdjust="spacingAndGlyphs">,</text><text class="c" x="308" y="876.29" font-size="11.3" letter-spacing="1.3">观测</text><text x="333.29" y="876.29" font-size="12.43" class="a" textLength="7.24" lengthAdjust="spacingAndGlyphs">B</text><text class="c" x="344" y="876.29" font-size="11.3" letter-spacing="1.2">腔压力</text><text x="382" y="876.29" font-size="12.43" class="a" font-style="italic" textLength="5.11" lengthAdjust="spacingAndGlyphs">p</text><text x="386.99" y="877.29" font-size="8.5" class="a" textLength="4.75" lengthAdjust="spacingAndGlyphs">B</text><text class="c" x="395" y="876.29" font-size="11.3" letter-spacing="0.65">分别降至公称压力和</text><text x="502.55" y="876.29" font-size="12.43" class="a" textLength="14.76" lengthAdjust="spacingAndGlyphs">0.1</text><text class="c" x="521" y="876.29" font-size="11.3" letter-spacing="0.75">倍公称压力</text><text class="c" x="582" y="876.29" font-size="11.3">时</text><text class="c" x="611.6" y="876.29" font-size="11.3" letter-spacing="0.05">符合表</text><text x="646.6" y="876.29" font-size="12.43" class="a" textLength="4.54" lengthAdjust="spacingAndGlyphs">1</text><text class="c" x="657.9" y="876.29" font-size="11.3" letter-spacing="-0.05">的规定</text></g>
<g stroke-width="4.5"><text class="c" x="231.6" y="894.19" font-size="11.3" letter-spacing="1.05">的控制压力</text><text x="293.42" y="894.19" font-size="12.43" class="a" font-style="italic" textLength="5.3" lengthAdjust="spacingAndGlyphs">p</text><text x="298.5" y="895.19" font-size="8.5" class="a" textLength="4.91" lengthAdjust="spacingAndGlyphs">C</text><text class="c" x="307" y="894.19" font-size="11.3">值</text><text x="318.44" y="894.19" font-size="12.43" class="a" textLength="3.69" lengthAdjust="spacingAndGlyphs">,</text><text class="c" x="323" y="894.19" font-size="11.3" letter-spacing="0.9">反复进行两次</text></g>
<g stroke-width="4.5"><text x="242.57" y="916.69" font-size="12.43" class="a" textLength="5.39" lengthAdjust="spacingAndGlyphs">a</text><text x="249.05" y="916.69" font-size="12.43" class="a" textLength="3.63" lengthAdjust="spacingAndGlyphs">)</text><text class="c" x="259.8" y="916.69" font-size="11.3" letter-spacing="0.9">平衡阀</text><text x="297.88" y="916.69" font-size="12.43" class="a" textLength="9.01" lengthAdjust="spacingAndGlyphs">A</text><text class="c" x="311.6" y="916.69" font-size="11.3" letter-spacing="1.1">腔与换向阀</text><text x="375.27" y="916.69" font-size="12.43" class="a" textLength="5.57" lengthAdjust="spacingAndGlyphs">3</text><text class="c" x="385" y="916.69" font-size="11.3" letter-spacing="1.7">断开</text><text x="409.44" y="916.69" font-size="12.43" class="a" textLength="3.69" lengthAdjust="spacingAndGlyphs">,</text><text x="414.68" y="916.69" font-size="12.43" class="a" textLength="7.47" lengthAdjust="spacingAndGlyphs">B</text><text class="c" x="426.4" y="916.69" font-size="11.3" letter-spacing="1.02">腔供油并升压至公称压力</text><text x="561.04" y="916.69" font-size="12.43" class="a" textLength="3.69" lengthAdjust="spacingAndGlyphs">,</text><text class="c" x="569.4" y="916.69" font-size="11.3" letter-spacing="3.5">保压</text></g>
<g stroke-width="4.5"><text x="230.85" y="935.29" font-size="12.43" class="a" textLength="5.59" lengthAdjust="spacingAndGlyphs">5</text><text x="239.8" y="935.29" font-size="10.5" class="a s" textLength="19.38" lengthAdjust="spacingAndGlyphs">min</text><text x="260.04" y="935.29" font-size="12.43" class="a" textLength="3.69" lengthAdjust="spacingAndGlyphs">,</text><text class="c" x="265.5" y="935.29" font-size="11.3">从</text><text x="277.88" y="935.29" font-size="12.43" class="a" textLength="9.22" lengthAdjust="spacingAndGlyphs">A</text><text class="c" x="291" y="935.29" font-size="11.3" letter-spacing="0.8">腔检测内泄漏量</text><text x="374.77" y="935.29" font-size="12.43" class="a" textLength="4.46" lengthAdjust="spacingAndGlyphs">;</text><text class="c" x="607.4" y="935.29" font-size="11.3" letter-spacing="0">符合</text><text x="632.03" y="935.29" font-size="12.43" class="a" textLength="28.12" lengthAdjust="spacingAndGlyphs">4.1.3</text><text class="c" x="660.7" y="935.29" font-size="11.3">、</text><text x="664.19" y="935.29" font-size="12.43" class="a" textLength="31.35" lengthAdjust="spacingAndGlyphs">4.1.4</text></g>
<g stroke-width="4.5"><text x="107.67" y="944.99" font-size="12.43" class="a" textLength="5.57" lengthAdjust="spacingAndGlyphs">3</text><text class="c" x="141.3" y="944.99" font-size="11.3" letter-spacing="0.45">内泄漏</text><text class="c" x="194.3" y="944.99" font-size="11.3" letter-spacing="0.3">必试</text></g>
<g stroke-width="4.5"><text x="243" y="954.29" font-size="12.43" class="a" textLength="4.98" lengthAdjust="spacingAndGlyphs">b</text><text x="249.47" y="954.29" font-size="12.43" class="a" textLength="3.37" lengthAdjust="spacingAndGlyphs">)</text><text class="c" x="260" y="954.29" font-size="11.3" letter-spacing="0.2">平衡阀</text><text x="294.88" y="954.29" font-size="12.43" class="a" textLength="8.81" lengthAdjust="spacingAndGlyphs">A</text><text class="c" x="308" y="954.29" font-size="11.3" letter-spacing="1">腔与换向阀</text><text x="368.54" y="954.29" font-size="12.43" class="a" textLength="4.84" lengthAdjust="spacingAndGlyphs">3</text><text class="c" x="376.2" y="954.29" font-size="11.3" letter-spacing="1.7">断开</text><text x="400.44" y="954.29" font-size="12.43" class="a" textLength="3.69" lengthAdjust="spacingAndGlyphs">,</text><text x="403.93" y="954.29" font-size="12.43" class="a" textLength="7.71" lengthAdjust="spacingAndGlyphs">C</text><text class="c" x="416" y="954.29" font-size="11.3" letter-spacing="1.2">腔供油并升压至</text><text x="501.72" y="954.29" font-size="12.43" class="a" textLength="15.77" lengthAdjust="spacingAndGlyphs">0.5</text><text class="c" x="521.8" y="954.29" font-size="11.3" letter-spacing="0.75">倍公称压力</text><text x="581.04" y="954.29" font-size="12.43" class="a" textLength="3.69" lengthAdjust="spacingAndGlyphs">,</text><text class="c" x="586" y="954.29" font-size="11.3">保</text><text class="c" x="634.7" y="954.29" font-size="11.3" letter-spacing="0.05">的规定</text></g>
<g stroke-width="4.5"><text class="c" x="231.6" y="972.89" font-size="11.3">压</text><text x="244.5" y="972.89" font-size="12.43" class="a" textLength="5.74" lengthAdjust="spacingAndGlyphs">2</text><text x="253.61" y="972.89" font-size="10.5" class="a s" textLength="19.16" lengthAdjust="spacingAndGlyphs">min</text><text x="274.44" y="972.89" font-size="12.43" class="a" textLength="3.69" lengthAdjust="spacingAndGlyphs">,</text><text class="c" x="279" y="972.89" font-size="11.3">从</text><text x="291.38" y="972.89" font-size="12.43" class="a" textLength="9.22" lengthAdjust="spacingAndGlyphs">A</text><text class="c" x="304" y="972.89" font-size="11.3" letter-spacing="0.77">腔检测内泄漏量</text></g>
<g stroke-width="4.5"><text x="108.4" y="994.99" font-size="12.43" class="a" textLength="5.16" lengthAdjust="spacingAndGlyphs">4</text><text class="c" x="147.8" y="994.99" font-size="11.3" letter-spacing="0.1">耐压</text><text class="c" x="194.6" y="994.99" font-size="11.3" letter-spacing="0">必试</text><text class="c" x="243.6" y="994.99" font-size="11.3" letter-spacing="1.7">堵住</text><text x="269.66" y="994.99" font-size="12.43" class="a" textLength="7.92" lengthAdjust="spacingAndGlyphs">B</text><text class="c" x="279.6" y="994.99" font-size="11.3">腔</text><text x="291.04" y="994.99" font-size="12.43" class="a" textLength="3.69" lengthAdjust="spacingAndGlyphs">,</text><text x="296.28" y="994.99" font-size="12.43" class="a" textLength="8.81" lengthAdjust="spacingAndGlyphs">A</text><text class="c" x="309" y="994.99" font-size="11.3" letter-spacing="0.63">腔供油并升压至</text><text x="391.83" y="994.99" font-size="12.43" class="a" textLength="16.7" lengthAdjust="spacingAndGlyphs">1.5</text><text class="c" x="413" y="994.99" font-size="11.3" letter-spacing="0.7">倍公称压力</text><text x="472.44" y="994.99" font-size="12.43" class="a" textLength="3.69" lengthAdjust="spacingAndGlyphs">,</text><text class="c" x="478.6" y="994.99" font-size="11.3" letter-spacing="1.7">保压</text><text x="504.47" y="994.99" font-size="12.43" class="a" textLength="5.57" lengthAdjust="spacingAndGlyphs">3</text><text x="514.64" y="994.99" font-size="10.5" class="a s" textLength="18.51" lengthAdjust="spacingAndGlyphs">min</text><text class="c" x="628.4" y="994.99" font-size="11.3" letter-spacing="0.27">不许外渗</text></g>
</g></g>
<text x="660.19" y="1035.9" font-size="11.8" font-weight="bold" textLength="17.21" lengthAdjust="spacingAndGlyphs">991</text>
<g stroke="#dcdcdc" stroke-width="0.9" stroke-dasharray="1.5 3" fill="none"><path d="M705.5 1008V1056M20.5 1003V1050M760.5 1030V1040"/></g>
<circle cx="247" cy="1029.5" r="0.8" fill="#bbb"/><circle cx="128" cy="229" r="0.7" fill="#ccc"/>
</svg><div style="position:absolute;left:799px;top:0;width:1px;height:1071px;background:#858585"></div><div style="position:absolute;left:795px;top:0;width:3px;height:1071px;background:#fafafa"></div></body></html>
